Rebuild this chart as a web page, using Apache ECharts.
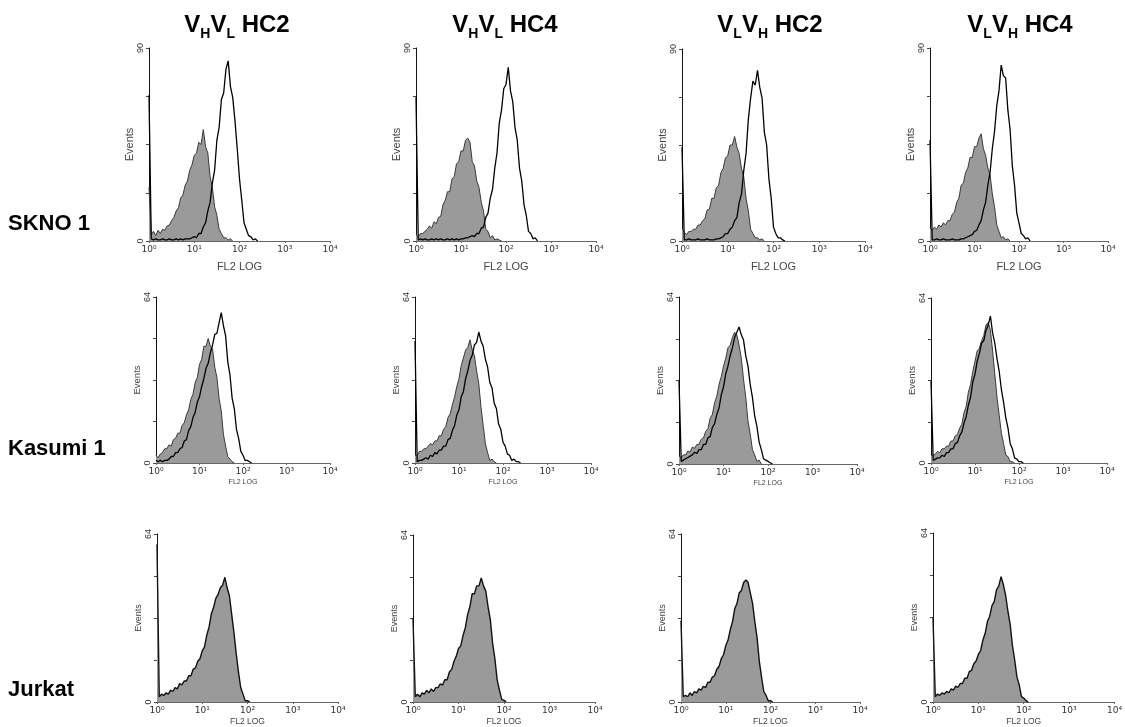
<!DOCTYPE html>
<html>
<head>
<meta charset="utf-8">
<script src="https://cdn.jsdelivr.net/npm/echarts@6/dist/echarts.min.js"></script>
<style>
  html, body { margin: 0; padding: 0; background: #fff; }
  #chart { width: 1125px; height: 727px; }
</style>
</head>
<body>
<div id="chart"></div>
<script>
// FL2 channel positions, in decades (10^x), shared by every histogram
const bins = [
  0.00, 0.05, 0.10, 0.15, 0.20, 0.25, 0.30, 0.35, 0.40, 0.45,
  0.50, 0.55, 0.60, 0.65, 0.70, 0.75, 0.80, 0.85, 0.90, 0.95,
  1.00, 1.05, 1.10, 1.15, 1.20, 1.25, 1.30, 1.35, 1.40, 1.45,
  1.50, 1.55, 1.60, 1.65, 1.70, 1.75, 1.80, 1.85, 1.90, 1.95,
  2.00, 2.05, 2.10, 2.15, 2.20, 2.25, 2.30, 2.35, 2.40, 2.45,
  2.50, 2.55, 2.60, 2.65, 2.70
];

const columnTitles = [
  ['H', 'L', 'HC2'],
  ['H', 'L', 'HC4'],
  ['L', 'H', 'HC2'],
  ['L', 'H', 'HC4']
];
const rowLabels = ['SKNO 1', 'Kasumi 1', 'Jurkat'];
const rowMax = [90, 64, 64];
const decadeLabels = ['10\u2070', '10\u00b9', '10\u00b2', '10\u00b3', '10\u2074'];

// SKNO 1: grey = control, black = stained
const sknoHL2Ctrl = [25, 3, 4.5, 2.5, 5, 3.5, 5.5, 5, 7, 7.5, 9.5, 11, 14, 15.5, 20, 21.5, 26, 28, 33, 35.5,
  40, 41, 46, 45, 52, 44, 41, 30, 25, 16, 12, 5.5, 3.5, 1.5, 1.5, 0.5, 1, 0];
const sknoHL2Stain = [68, 1, 0.5, 1, 0.5, 0.5, 1, 0.5, 0.5, 1, 0.5, 0.5, 1, 0.5, 1, 0.5, 1, 1, 1, 1.5,
  2, 1.5, 3.5, 3.5, 6.5, 8.5, 14, 18, 27, 33, 47, 53, 66, 69, 80, 84, 72, 67, 56, 43,
  29, 19, 8.5, 5.5, 2.5, 2, 0.5, 1, 0];
const sknoHL4Ctrl = [3, 2, 3.5, 3.5, 4.5, 5.5, 7, 6, 9, 8, 11, 11.5, 17, 19, 23, 23, 29, 30, 36, 37,
  42, 42, 47, 48, 46, 37, 35, 28, 25, 18, 14, 5.5, 4.5, 1.5, 2.5, 0.5, 1, 0.5, 0];
const sknoHL4Stain = [67, 0.5, 1, 0.5, 1, 0.5, 0.5, 1, 0.5, 1, 0.5, 1, 0.5, 0.5, 1, 0.5, 1, 0.5, 1, 0.5,
  1, 1, 1.5, 1.5, 2, 2.5, 2, 3.5, 3.5, 6, 6.5, 11, 13, 20, 24, 34, 41, 55, 61, 71,
  73, 81, 70, 65, 53, 47, 34, 28, 17, 12, 4.5, 3.5, 1, 1.5, 0];
const sknoLH2Ctrl = [6, 4, 3, 4.5, 4.5, 5.5, 5.5, 7.5, 7.5, 9.5, 10.5, 14.5, 15, 20, 20, 25, 26, 32, 34, 39,
  40, 45, 45, 49, 44, 41, 34, 30, 20, 14, 5.5, 3.5, 1.5, 1.5, 0.5, 1, 0];
const sknoLH2Stain = [44, 0.5, 0.5, 1, 0.5, 0.5, 0.5, 1, 0.5, 0.5, 0.5, 1, 0.5, 0.5, 0.5, 1, 1, 1.5, 2, 3.5,
  3.5, 5.5, 6.5, 9.5, 11, 18, 22, 33, 41, 57, 67, 75, 73, 80, 72, 67, 51, 45, 29, 20,
  6.5, 3.5, 1.5, 1.5, 0.5, 0];
const sknoLH4Ctrl = [6, 5, 6.5, 5.5, 7.5, 6.5, 8.5, 7.5, 9.5, 9.5, 12.5, 13.5, 18, 20, 26, 27, 32, 34, 39, 39,
  44, 44, 48, 50, 43, 40, 34, 31, 22, 16, 7.5, 4.5, 1.5, 2, 0.5, 1, 0];
const sknoLH4Stain = [47, 0.5, 0.5, 1, 0.5, 0.5, 1, 0.5, 0.5, 0.5, 1, 0.5, 0.5, 0.5, 1, 1, 1.5, 2, 2.5, 3,
  4.5, 5, 7.5, 9.5, 14.5, 18, 26, 32, 43, 51, 63, 70, 82, 77, 76, 61, 52, 35, 26, 13,
  8.5, 3.5, 2.5, 1, 1.5, 0];

// Kasumi 1
const kasumiHL2Ctrl = [3, 2, 3.5, 4, 5.5, 5.5, 7, 6.5, 9, 9.5, 11.5, 11.5, 14.5, 15.5, 18.5, 20.5, 24.5, 26.5, 31, 33,
  38, 40, 45, 45, 48, 45, 44, 37, 33, 25, 20, 11, 6.5, 2.5, 1.5, 0.5, 0];
const kasumiHL2Stain = [1, 0.5, 1, 0.5, 1, 1, 1.5, 2.5, 2.5, 4, 4, 5.5, 6, 8.5, 9, 12.5, 14, 17.5, 19.5, 23.5,
  25.5, 29.5, 32.5, 36.5, 38.5, 42.5, 45.5, 49.5, 50, 54, 58, 53, 49, 39, 34, 25, 21, 13, 9.5, 4.5,
  3, 1, 1, 0.5, 0];
const kasumiHL4Ctrl = [3, 3, 4.5, 4.5, 5.5, 5.5, 6.5, 7.5, 7, 8.5, 8.5, 10.5, 10.5, 13, 14, 17.5, 19, 22.5, 25.5, 29.5,
  32.5, 37.5, 40.5, 43.5, 44.5, 47.5, 43.5, 41.5, 35.5, 30.5, 21.5, 14.5, 7.5, 4, 1, 1.5, 0.5, 0];
const kasumiHL4Stain = [47, 0.5, 1, 1, 1.5, 2, 1.5, 3, 2.5, 4, 3.5, 5, 5, 6.5, 6.5, 9, 9.5, 12.5, 14.5, 18.5,
  20.5, 25.5, 27.5, 32.5, 35.5, 39.5, 41.5, 45.5, 46.5, 50.5, 47, 45, 40, 37, 31, 29, 23, 21, 15, 13,
  8, 6.5, 3.5, 3, 1, 1.5, 0.5, 0.5, 0];
const kasumiLH2Ctrl = [3, 2.5, 3.5, 3.5, 5, 4.5, 6.5, 6, 7.5, 7.5, 9.5, 10, 12.5, 13.5, 17.5, 19, 23.5, 26, 30.5, 33.5,
  37.5, 40.5, 44.5, 45.5, 48.5, 50.5, 49.5, 45.5, 40.5, 32.5, 25.5, 16.5, 11.5, 5.5, 3.5, 1, 1.5, 0];
const kasumiLH2Stain = [32, 1, 1.5, 2, 2.5, 3, 3.5, 4.5, 4, 5.5, 5.5, 7.5, 7.5, 10, 10.5, 14, 15.5, 19, 21.5, 26.5,
  29.5, 34.5, 37.5, 41.5, 44.5, 48.5, 50.5, 52.5, 49.5, 47.5, 41.5, 37.5, 30.5, 25.5, 18.5, 14.5, 8.5, 5.5, 2, 1.5,
  1, 0.5, 0];
const kasumiLH4Ctrl = [3, 3, 3.5, 4.5, 4, 5.5, 5.5, 6.5, 6.5, 8.5, 8.5, 10.5, 11, 13.5, 15, 19.5, 22, 27.5, 30.5, 35.5,
  39.5, 43.5, 44.5, 47.5, 49.5, 53.5, 54.5, 51.5, 43.5, 34.5, 25.5, 18.5, 11.5, 7.5, 3, 2.5, 0.5, 0.5, 0];
const kasumiLH4Stain = [32, 1, 1.5, 2, 2, 3, 2.5, 4, 4, 5.5, 5.5, 7.5, 8, 10.5, 12, 15.5, 18, 22.5, 25.5, 31.5,
  34.5, 39.5, 42.5, 46.5, 47.5, 51.5, 53.5, 57, 50.5, 46.5, 40.5, 35.5, 28.5, 23.5, 17.5, 13.5, 7.5, 5.5, 2, 1.5,
  0.5, 0.5, 0];

// Jurkat (control and stained overlap)
const jurkatHL2 = [60, 2, 3, 2.5, 3.5, 3, 4.5, 4, 5.5, 5, 7, 6.5, 8, 8, 10, 10, 12.5, 13, 15.5, 16.5,
  19.5, 21, 25.5, 28.5, 33.5, 36, 39.5, 41, 43.5, 44.5, 47.5, 43.5, 40.5, 33.5, 26.5, 18.5, 11.5, 5.5, 3, 0.5,
  0.5, 0];
const jurkatHL4 = [32, 2, 3, 2, 3.5, 3, 4.5, 3.5, 5, 4, 5.5, 5.5, 7, 6.5, 8.5, 8.5, 11.5, 12.5, 15.5, 17.5,
  20.5, 21.5, 25.5, 28.5, 33.5, 36.5, 41.5, 41.5, 44.5, 44.5, 47.5, 44.5, 42.5, 36.5, 31.5, 22.5, 16.5, 8.5, 4.5, 1,
  0.6, 0];
const jurkatLH2 = [31, 2, 2.5, 2, 3.5, 2.5, 4, 3.5, 5, 4.5, 6, 5.5, 7.5, 7.5, 9.5, 10, 12.5, 13.5, 16.5, 18,
  21.5, 23.5, 27.5, 30.5, 35.5, 37.5, 41.5, 42.5, 45.5, 46.5, 45.5, 41.5, 37.5, 30.5, 24.5, 15.5, 9.5, 4, 2.5, 0.5,
  0.5, 0];
const jurkatLH4 = [32, 2, 3, 2.5, 3.5, 3, 4, 3.5, 5, 4.5, 6, 5.5, 7, 7, 9, 9, 11.5, 12, 14.5, 15.5,
  18, 19.5, 23.5, 26, 30.5, 32.5, 36.5, 38, 42.5, 44, 47.5, 44.5, 40.5, 34.5, 29.5, 21.5, 16, 9.5, 6.5, 2,
  1.5, 0.5, 0];

const panels = [
  { row: 0, col: 0, ctrl: sknoHL2Ctrl, stain: sknoHL2Stain },
  { row: 0, col: 1, ctrl: sknoHL4Ctrl, stain: sknoHL4Stain },
  { row: 0, col: 2, ctrl: sknoLH2Ctrl, stain: sknoLH2Stain },
  { row: 0, col: 3, ctrl: sknoLH4Ctrl, stain: sknoLH4Stain },
  { row: 1, col: 0, ctrl: kasumiHL2Ctrl, stain: kasumiHL2Stain },
  { row: 1, col: 1, ctrl: kasumiHL4Ctrl, stain: kasumiHL4Stain },
  { row: 1, col: 2, ctrl: kasumiLH2Ctrl, stain: kasumiLH2Stain },
  { row: 1, col: 3, ctrl: kasumiLH4Ctrl, stain: kasumiLH4Stain },
  { row: 2, col: 0, ctrl: jurkatHL2, stain: null },
  { row: 2, col: 1, ctrl: jurkatHL4, stain: null },
  { row: 2, col: 2, ctrl: jurkatLH2, stain: null },
  { row: 2, col: 3, ctrl: jurkatLH4, stain: null }
];

// plot boxes [left, top, width, height] in px
const boxes = [
  [149, 48, 181, 193], [416, 48, 180, 193], [682, 49, 183, 192], [930, 48, 178, 193],
  [156, 297, 174, 166], [415, 297, 176, 166], [679, 297, 178, 167], [931, 298, 176, 165],
  [157, 534, 181, 169], [413, 535, 182, 168], [681, 534, 179, 169], [933, 533, 182, 171]
];
const titleX = [237, 505, 770, 1020];
const rowLabelY = [224, 449, 690];
const nameSize = [11, 7, 8.5];
const eventsSize = [11, 9.5, 9];
const nameGap = [20, 16, 15];

const toPoints = (vals) => vals.map((v, i) => [bins[i], v]);

const grid = [], xAxis = [], yAxis = [], series = [];
panels.forEach((p, i) => {
  const [left, top, width, height] = boxes[i];
  const max = rowMax[p.row];
  grid.push({ left, top, width, height });
  xAxis.push({
    gridIndex: i,
    type: 'value',
    min: 0,
    max: 4,
    interval: 1,
    name: 'FL2 LOG',
    nameLocation: 'middle',
    nameGap: nameGap[p.row],
    nameTextStyle: { color: '#444', fontSize: nameSize[p.row], fontFamily: 'Liberation Sans' },
    axisLine: { show: true, lineStyle: { color: '#666', width: 1 } },
    axisTick: { show: true, length: 2, lineStyle: { color: '#666' } },
    axisLabel: {
      color: '#333',
      fontSize: 9,
      margin: 4,
      fontFamily: 'DejaVu Sans',
      formatter: (v) => decadeLabels[Math.round(v)]
    },
    splitLine: { show: false }
  });
  yAxis.push({
    gridIndex: i,
    type: 'value',
    min: 0,
    max,
    interval: max / 4,
    name: 'Events',
    nameLocation: 'middle',
    nameRotate: 90,
    nameGap: 13,
    nameTextStyle: { color: '#444', fontSize: eventsSize[p.row], fontFamily: 'Liberation Sans' },
    axisLine: { show: true, lineStyle: { color: '#111', width: 1 } },
    axisTick: { show: true, length: 3, lineStyle: { color: '#444' } },
    axisLabel: {
      color: '#333',
      fontSize: 9,
      rotate: 90,
      margin: 4,
      fontFamily: 'Liberation Sans',
      formatter: (v) => (v === 0 || v === max ? String(v) : '')
    },
    splitLine: { show: false }
  });
  series.push({
    type: 'line',
    xAxisIndex: i,
    yAxisIndex: i,
    data: toPoints(p.ctrl),
    showSymbol: false,
    silent: true,
    z: 2,
    lineStyle: { color: p.stain ? '#3a3a3a' : '#111', width: p.stain ? 1 : 1.4 },
    areaStyle: { color: '#9a9a9a', opacity: 1 }
  });
  if (p.stain) {
    series.push({
      type: 'line',
      xAxisIndex: i,
      yAxisIndex: i,
      data: toPoints(p.stain),
      showSymbol: false,
      silent: true,
      z: 3,
      lineStyle: { color: '#000', width: 1.3 }
    });
  }
});

const graphic = [];
columnTitles.forEach(([a, b, tail], c) => {
  graphic.push({
    type: 'text',
    x: titleX[c],
    y: 13,
    style: {
      text: `{v|V}{s|${a}}{v|V}{s|${b}}{v| ${tail}}`,
      align: 'center',
      verticalAlign: 'top',
      rich: {
        v: { fontSize: 24, fontWeight: 'bold', fontFamily: 'Liberation Sans', fill: '#000', verticalAlign: 'top', lineHeight: 24 },
        s: { fontSize: 14, fontWeight: 'bold', fontFamily: 'Liberation Sans', fill: '#000', verticalAlign: 'top', lineHeight: 14, padding: [14, 0, 0, 0] }
      }
    }
  });
});
rowLabels.forEach((label, r) => {
  graphic.push({
    type: 'text',
    x: 8,
    y: rowLabelY[r],
    style: {
      text: label,
      fontSize: 22,
      fontWeight: 'bold',
      fontFamily: 'Liberation Sans',
      fill: '#000',
      align: 'left',
      verticalAlign: 'middle'
    }
  });
});

const chart = echarts.init(document.getElementById('chart'));
chart.setOption({
  backgroundColor: '#fff',
  animation: false,
  grid,
  xAxis,
  yAxis,
  series,
  graphic
});
</script>
</body>
</html>
